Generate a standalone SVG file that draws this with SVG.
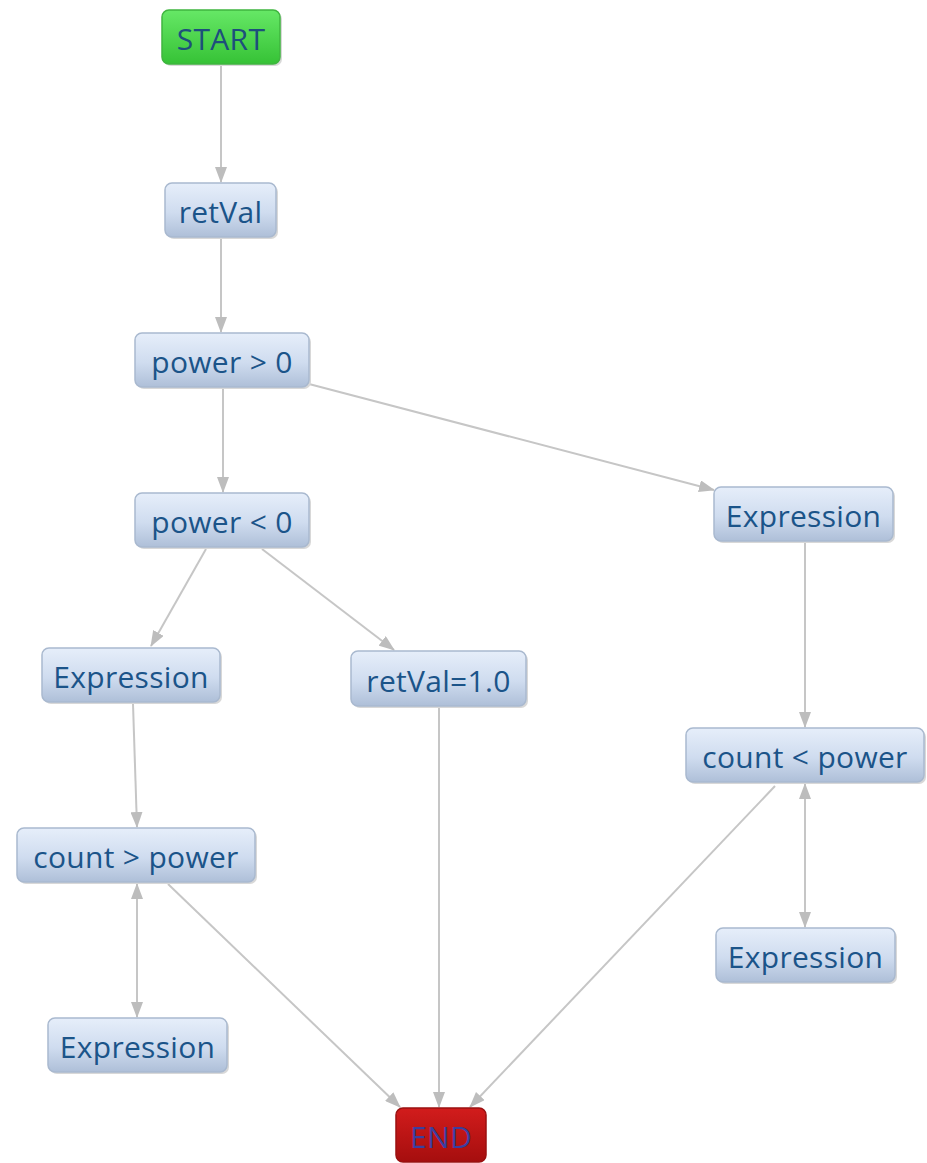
<svg xmlns="http://www.w3.org/2000/svg" width="927" height="1163" viewBox="0 0 927 1163">
  <defs>
    <linearGradient id="gBlue" x1="0" y1="0" x2="0" y2="1">
      <stop offset="0" stop-color="#e6eefa"/>
      <stop offset="0.55" stop-color="#cfdcef"/>
      <stop offset="1" stop-color="#aebfd8"/>
    </linearGradient>
    <linearGradient id="gGreen" x1="0" y1="0" x2="0" y2="1">
      <stop offset="0" stop-color="#66e866"/>
      <stop offset="1" stop-color="#36c236"/>
    </linearGradient>
    <linearGradient id="gRed" x1="0" y1="0" x2="0" y2="1">
      <stop offset="0" stop-color="#d21c1c"/>
      <stop offset="1" stop-color="#a50e0e"/>
    </linearGradient>
    <marker id="arr" viewBox="0 0 16 12" refX="15" refY="6" markerWidth="16" markerHeight="12" markerUnits="userSpaceOnUse" orient="auto-start-reverse">
      <path d="M0,0 L16,6 L0,12 Z" fill="#bdbdbd"/>
    </marker>
  </defs>
  <style>
    .edge { stroke: #c6c6c6; stroke-width: 2; fill: none; marker-end: url(#arr); }
    .both { marker-start: url(#arr); }
    .box { fill: url(#gBlue); stroke: #a9b9cf; stroke-width: 1.5; }
    .start { fill: url(#gGreen); stroke: #3fb53f; stroke-width: 1.5; }
    .end { fill: url(#gRed); stroke: #9a1010; stroke-width: 1.5; }
    .shadow { fill: #d8d8d8; }
    text { font-family: "Open Sans", "Noto Sans", "DejaVu Sans", sans-serif; font-size: 30px; letter-spacing: 0.3px; fill: #1b5489; text-anchor: middle; dominant-baseline: central; }
    .starttxt { fill: #1d4f7c; }
    .endtxt { fill: #3a3fa0; }
  </style>

  <rect width="927" height="1163" fill="#ffffff"/>

  <!-- connectors -->
  <g id="edges">
    <line class="edge" x1="221" y1="65" x2="221" y2="182"/>
    <line class="edge" x1="221" y1="238" x2="221" y2="332"/>
    <line class="edge" x1="223" y1="388" x2="223" y2="492"/>
    <line class="edge" x1="309" y1="384" x2="714" y2="490"/>
    <line class="edge" x1="206" y1="549" x2="151" y2="646"/>
    <line class="edge" x1="262" y1="549" x2="394" y2="650"/>
    <line class="edge" x1="133" y1="704" x2="137" y2="827"/>
    <line class="edge both" x1="137" y1="884" x2="137" y2="1017"/>
    <line class="edge" x1="168" y1="884" x2="400" y2="1107"/>
    <line class="edge" x1="439" y1="708" x2="439" y2="1107"/>
    <line class="edge" x1="805" y1="542" x2="805" y2="727"/>
    <line class="edge both" x1="805" y1="784" x2="805" y2="927"/>
    <line class="edge" x1="775" y1="786" x2="470" y2="1107"/>
  </g>

  <!-- nodes -->
  <g id="start">
    <rect class="shadow" x="164" y="12" width="118" height="54" rx="7"/>
    <rect class="start" x="162" y="10" width="118" height="54" rx="7"/>
    <text class="starttxt" x="221" y="38">START</text>
  </g>
  <g id="retVal">
    <rect class="shadow" x="167" y="185" width="111" height="54" rx="7"/>
    <rect class="box" x="165" y="183" width="111" height="54" rx="7"/>
    <text x="220.5" y="211">retVal</text>
  </g>
  <g id="powerGt0">
    <rect class="shadow" x="137" y="335" width="174" height="54" rx="7"/>
    <rect class="box" x="135" y="333" width="174" height="54" rx="7"/>
    <text x="222" y="361">power &gt; 0</text>
  </g>
  <g id="powerLt0">
    <rect class="shadow" x="137" y="495" width="174" height="54" rx="7"/>
    <rect class="box" x="135" y="493" width="174" height="54" rx="7"/>
    <text x="222" y="521">power &lt; 0</text>
  </g>
  <g id="exprRightTop">
    <rect class="shadow" x="716" y="489" width="179" height="54" rx="7"/>
    <rect class="box" x="714" y="487" width="179" height="54" rx="7"/>
    <text x="803.5" y="515">Expression</text>
  </g>
  <g id="exprLeftTop">
    <rect class="shadow" x="44" y="650" width="178" height="54" rx="7"/>
    <rect class="box" x="42" y="648" width="178" height="54" rx="7"/>
    <text x="131" y="676">Expression</text>
  </g>
  <g id="retValOne">
    <rect class="shadow" x="353" y="653" width="175" height="55" rx="7"/>
    <rect class="box" x="351" y="651" width="175" height="55" rx="7"/>
    <text x="438.5" y="680">retVal=1.0</text>
  </g>
  <g id="countLtPower">
    <rect class="shadow" x="688" y="730" width="238" height="54" rx="7"/>
    <rect class="box" x="686" y="728" width="238" height="54" rx="7"/>
    <text x="805" y="756">count &lt; power</text>
  </g>
  <g id="countGtPower">
    <rect class="shadow" x="19" y="830" width="238" height="54" rx="7"/>
    <rect class="box" x="17" y="828" width="238" height="54" rx="7"/>
    <text x="136" y="856">count &gt; power</text>
  </g>
  <g id="exprRightBottom">
    <rect class="shadow" x="718" y="930" width="179" height="54" rx="7"/>
    <rect class="box" x="716" y="928" width="179" height="54" rx="7"/>
    <text x="805.5" y="956">Expression</text>
  </g>
  <g id="exprLeftBottom">
    <rect class="shadow" x="50" y="1020" width="179" height="54" rx="7"/>
    <rect class="box" x="48" y="1018" width="179" height="54" rx="7"/>
    <text x="137.5" y="1046">Expression</text>
  </g>
  <g id="end">
    <rect class="end" x="396" y="1108" width="90" height="54" rx="7"/>
    <text class="endtxt" x="441" y="1136">END</text>
  </g>
</svg>
